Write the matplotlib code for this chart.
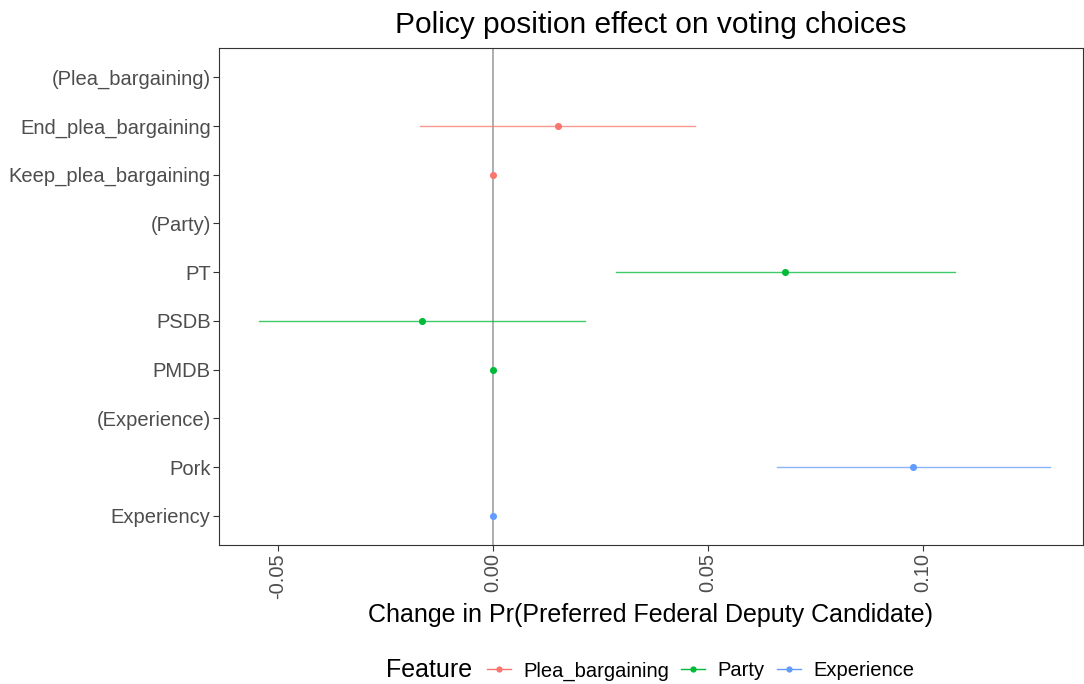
import matplotlib
matplotlib.use("Agg")
import matplotlib.pyplot as plt
from matplotlib.lines import Line2D

plt.rcParams['font.family'] = ['Liberation Sans', 'DejaVu Sans']

# rows from top to bottom
levels = ["(Plea_bargaining)", "End_plea_bargaining", "Keep_plea_bargaining",
          "(Party)", "PT", "PSDB", "PMDB",
          "(Experience)", "Pork", "Experiency"]
features = ["Plea_bargaining", "Plea_bargaining", "Plea_bargaining",
            "Party", "Party", "Party", "Party",
            "Experience", "Experience", "Experience"]
estimate = [None, 0.0151, 0.0, None, 0.0679, -0.0165, 0.0, None, 0.0977, 0.0]
lower = [None, -0.0170, None, None, 0.0286, -0.0544, None, None, 0.0660, None]
upper = [None, 0.0470, None, None, 0.1074, 0.0214, None, None, 0.1295, None]

feature_order = ["Plea_bargaining", "Party", "Experience"]
colors = {"Plea_bargaining": "#F8766D", "Party": "#00BA38", "Experience": "#619CFF"}

fig = plt.figure(figsize=(10.84, 6.84), dpi=100)
ax = fig.add_axes([219 / 1084, 1 - 545 / 684, (1083 - 219) / 1084, (545 - 48) / 684])

n = len(levels)
ys = [n - i for i in range(n)]

ax.axvline(0, color="#999999", lw=1.1, zorder=1)

for y, f, est, lo, hi in zip(ys, features, estimate, lower, upper):
    c = colors[f]
    if lo is not None:
        ax.plot([lo, hi], [y, y], color=c, lw=1.0, alpha=0.75, zorder=2)
    if est is not None:
        ax.scatter([est], [y], color=c, s=26, zorder=3, linewidths=0)

ax.set_xlim(-0.0637, 0.1372)
ax.set_ylim(0.4, n + 0.6)
ax.set_yticks(ys)
ax.set_yticklabels(levels)
ax.set_xticks([-0.05, 0.0, 0.05, 0.10])
ax.set_xticklabels(["-0.05", "0.00", "0.05", "0.10"], rotation=90)

ax.tick_params(axis="both", colors="#333333", labelsize=14.5, length=4, width=0.8, pad=2)
ax.tick_params(axis="both", labelcolor="#4D4D4D")
for s in ax.spines.values():
    s.set_color("#333333")
    s.set_linewidth(0.8)

ax.set_xlabel("Change in Pr(Preferred Federal Deputy Candidate)", fontsize=18, labelpad=3)
ax.set_title("Policy position effect on voting choices", fontsize=21.5, pad=11)

# legend at the bottom: title on the same row as the keys
fig.text(386 / 1084, 1 - 670 / 684, "Feature", fontsize=18, ha="left", va="center")
handles = [Line2D([0], [0], color=colors[f], lw=1.0, marker="o", markersize=4.5,
                  markeredgewidth=0) for f in feature_order]
fig.legend(handles, feature_order, loc="center left", bbox_to_anchor=(487 / 1084, 1 - 671 / 684),
           ncol=3, frameon=False, fontsize=14.5, borderpad=0, borderaxespad=0,
           handlelength=1.2, columnspacing=0.6, handletextpad=0.6)

fig.savefig("out.png", dpi=100)
